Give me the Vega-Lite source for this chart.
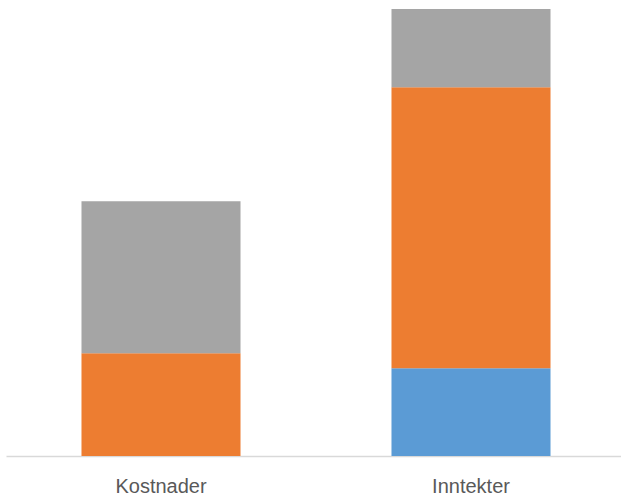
{
  "$schema": "https://vega.github.io/schema/vega-lite/v6.json",
  "width": 620,
  "height": 450,
  "autosize": {"type": "none"},
  "padding": {"left": 6, "top": 6, "right": 0, "bottom": 40},
  "background": "white",
  "data": {
    "values": [
      {"kategori": "Kostnader", "serie": "A", "rekkefolge": 1, "verdi": 0},
      {"kategori": "Kostnader", "serie": "B", "rekkefolge": 2, "verdi": 102.7},
      {"kategori": "Kostnader", "serie": "C", "rekkefolge": 3, "verdi": 152},
      {"kategori": "Inntekter", "serie": "A", "rekkefolge": 1, "verdi": 87.7},
      {"kategori": "Inntekter", "serie": "B", "rekkefolge": 2, "verdi": 281},
      {"kategori": "Inntekter", "serie": "C", "rekkefolge": 3, "verdi": 78.3}
    ]
  },
  "mark": {"type": "bar"},
  "encoding": {
    "x": {
      "field": "kategori",
      "type": "nominal",
      "sort": ["Kostnader", "Inntekter"],
      "scale": {"paddingInner": 0.487, "paddingOuter": 0.2435},
      "axis": {
        "title": null,
        "labelAngle": 0,
        "ticks": false,
        "labelPadding": 20,
        "labelFont": "Liberation Sans",
        "labelFontSize": 20,
        "labelColor": "#595959",
        "domainColor": "#d9d9d9",
        "domainWidth": 1.3
      }
    },
    "y": {
      "field": "verdi",
      "type": "quantitative",
      "stack": "zero",
      "scale": {"domain": [0, 450], "nice": false},
      "axis": null
    },
    "order": {"field": "rekkefolge", "type": "quantitative"},
    "color": {
      "field": "serie",
      "type": "nominal",
      "scale": {"domain": ["A", "B", "C"], "range": ["#5B9BD5", "#ED7D31", "#A5A5A5"]},
      "legend": null
    }
  },
  "config": {"view": {"stroke": null}}
}
